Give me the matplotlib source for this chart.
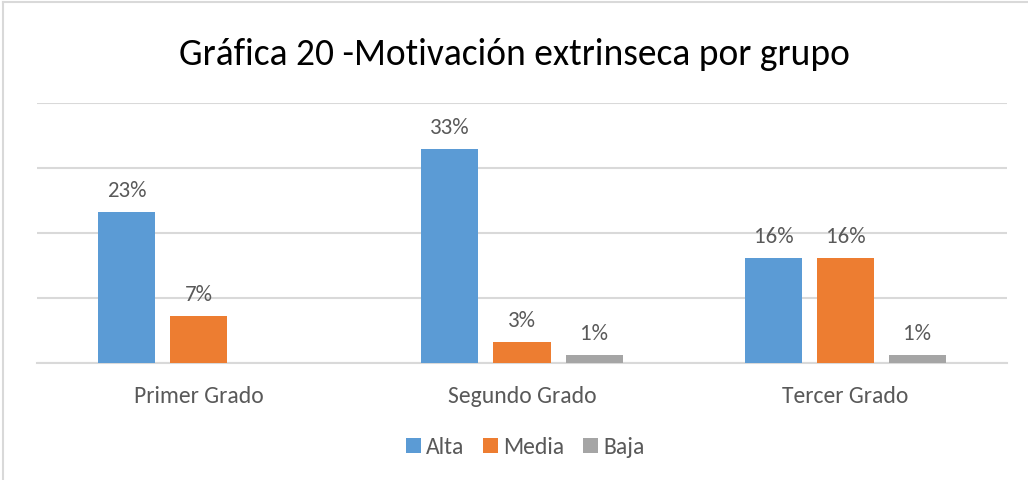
import matplotlib
matplotlib.use("Agg")
import matplotlib.pyplot as plt
import numpy as np

categories = ["Primer Grado", "Segundo Grado", "Tercer Grado"]
series_names = ["Alta", "Media", "Baja"]
alta = [23.2, 32.9, 16.2]
media = [7.2, 3.2, 16.2]
baja = [0.0, 1.2, 1.2]
labels_alta = ["23%", "33%", "16%"]
labels_media = ["7%", "3%", "16%"]
labels_baja = [None, "1%", "1%"]
colors = ["#5B9BD5", "#ED7D31", "#A5A5A5"]

plt.rcParams['font.family'] = ['Carlito', 'DejaVu Sans']
text_color = "#595959"

fig = plt.figure(figsize=(10.28, 4.81), dpi=100)
W, H = 1028, 481
ax = fig.add_axes([37 / W, 1 - 364 / H, (1007 - 37) / W, (364 - 104) / H])

x = np.arange(len(categories))
step = 72 / 323.3
width = 57 / 323.3
all_vals = [alta, media, baja]
all_labels = [labels_alta, labels_media, labels_baja]
for i, (vals, labs) in enumerate(zip(all_vals, all_labels)):
    pos = x + (i - 1) * step
    ax.bar(pos, vals, width, color=colors[i], label=series_names[i], zorder=3)
    for p, v, l in zip(pos, vals, labs):
        if l:
            ax.annotate(l, (p, v), xytext=(0, 8.5), textcoords="offset points",
                        ha="center", va="bottom", fontsize=16.5, color=text_color)

ax.set_xlim(-0.5, 2.5)
ax.set_ylim(0, 40)
ax.set_yticks([0, 10, 20, 30, 40])
ax.set_yticklabels([])
ax.tick_params(axis='y', length=0)
ax.yaxis.grid(True, color="#D9D9D9", linewidth=1.5, zorder=0)
ax.set_xticks(x)
ax.set_xticklabels(categories, fontsize=17, color=text_color)
ax.tick_params(axis='x', length=0, pad=15.5)
for s in ["top", "right", "left"]:
    ax.spines[s].set_visible(False)
ax.spines["bottom"].set_color("#D9D9D9")
ax.spines["bottom"].set_linewidth(1.5)

fig.text(0.5, 1 - 65 / H, "Gráfica 20 -Motivación extrinseca por grupo",
         ha="center", va="baseline", fontsize=27, color="#000000")

leg = fig.legend(loc="center", bbox_to_anchor=(525 / W, 1 - 448 / H), ncol=3,
                 frameon=False, fontsize=17, handlelength=0.64, handleheight=0.6,
                 handletextpad=0.21, columnspacing=0.8)
for t in leg.get_texts():
    t.set_color(text_color)

# outer border (top and left visible)
fig.add_artist(plt.Line2D([3 / W, 3 / W], [0, 1 - 3 / H], transform=fig.transFigure,
                          color="#D9D9D9", linewidth=1.5))
fig.add_artist(plt.Line2D([3 / W, 1], [1 - 3 / H, 1 - 3 / H], transform=fig.transFigure,
                          color="#D9D9D9", linewidth=1.5))

fig.savefig("out.png", dpi=100)
